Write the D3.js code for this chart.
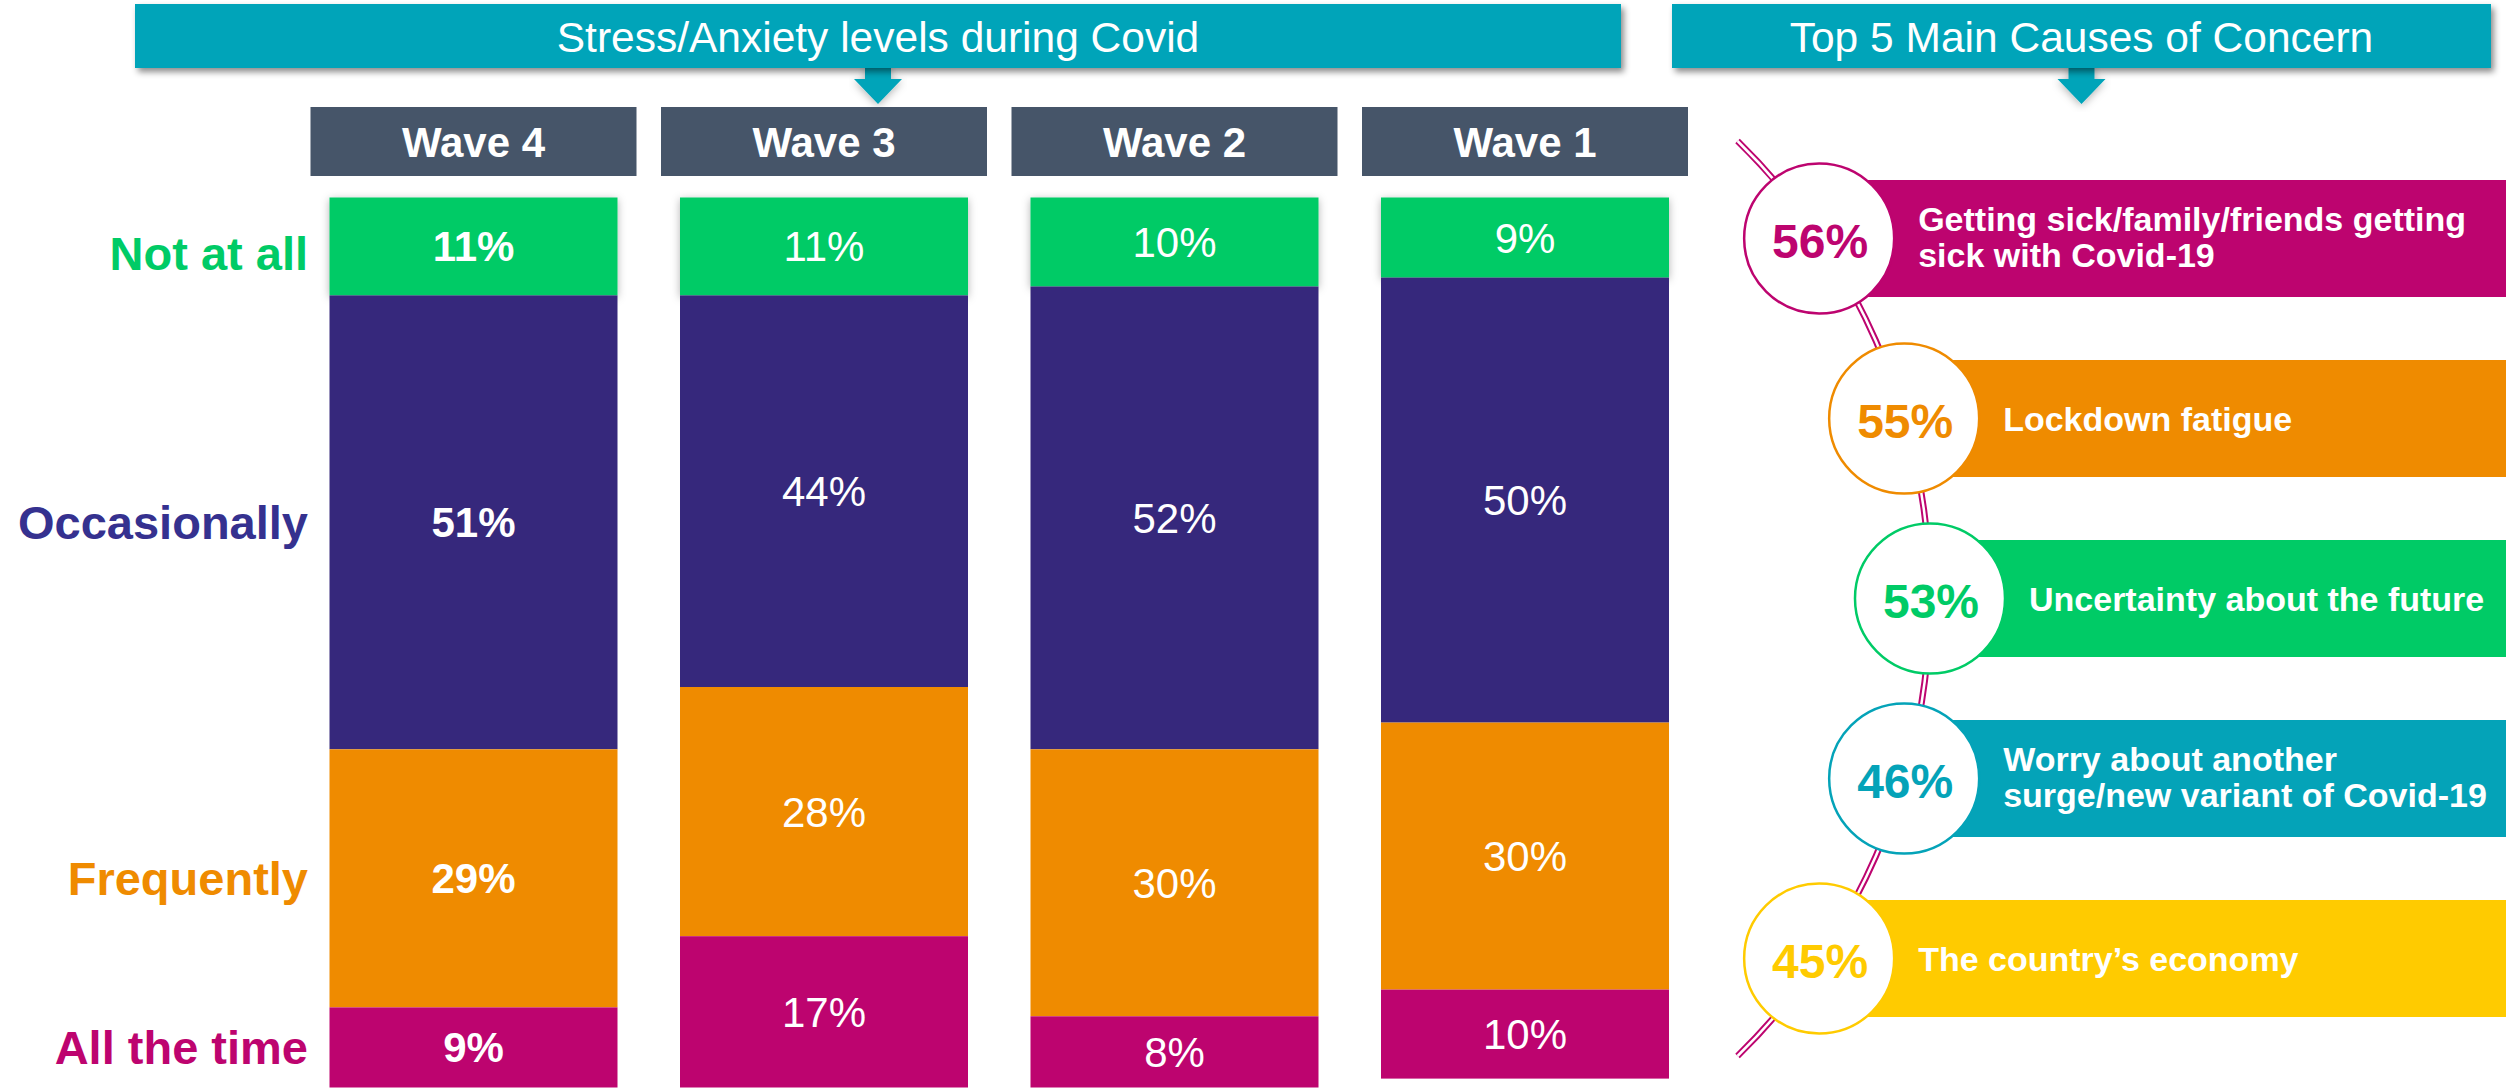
<!DOCTYPE html>
<html>
<head>
<meta charset="utf-8">
<script src="https://cdn.jsdelivr.net/npm/d3@7"></script>
<style>
  html, body { margin: 0; padding: 0; background: #ffffff; }
  svg { display: block; font-family: "Liberation Sans", Arial, sans-serif; }
</style>
</head>
<body>
<svg id="chart" width="2509" height="1089"></svg>
<script>
// ---- Stress / anxiety levels by survey wave ----
const waves = ["Wave 4", "Wave 3", "Wave 2", "Wave 1"];
const levels = ["Not at all", "Occasionally", "Frequently", "All the time"];
const notAtAll     = [11, 11, 10, 9];
const occasionally = [51, 44, 52, 50];
const frequently   = [29, 28, 30, 30];
const allTheTime   = [9, 17, 8, 10];
const levelColors  = ["#00CB66", "#36287C", "#EF8B00", "#BD046F"];

// ---- Top 5 causes of concern ----
const concerns = [
  "Getting sick/family/friends getting\nsick with Covid-19",
  "Lockdown fatigue",
  "Uncertainty about the future",
  "Worry about another\nsurge/new variant of Covid-19",
  "The country\u2019s economy"
];
const concernShares = [56, 55, 53, 46, 45];
const concernColors = ["#BD046F", "#EF8B00", "#00CB66", "#04A3B8", "#FFCB00"];

const titles = ["Stress/Anxiety levels during Covid", "Top 5 Main Causes of Concern"];

const TEAL = "#04A4B9";
const SLATE = "#465569";
const FONT = "'Liberation Sans', Arial, sans-serif";

const svg = d3.select("#chart");
const defs = svg.append("defs");

const shadow = defs.append("filter").attr("id", "shadow")
  .attr("x", "-5%").attr("y", "-20%").attr("width", "115%").attr("height", "160%");
shadow.append("feDropShadow").attr("dx", 3).attr("dy", 4).attr("stdDeviation", 3)
  .attr("flood-color", "#000").attr("flood-opacity", 0.45);

const softShadow = defs.append("filter").attr("id", "softShadow")
  .attr("x", "-10%").attr("y", "-10%").attr("width", "120%").attr("height", "130%");
softShadow.append("feDropShadow").attr("dx", 0).attr("dy", 2).attr("stdDeviation", 4)
  .attr("flood-color", "#000").attr("flood-opacity", 0.3);

// ---------- title banners with pointer arrows ----------
const banners = [
  { title: titles[0], x0: 135, x1: 1621 },
  { title: titles[1], x0: 1672, x1: 2491 }
];
const bannerG = svg.append("g");
banners.forEach(b => {
  const cx = (b.x0 + b.x1) / 2;
  bannerG.append("path")
    .attr("d", `M${cx - 13},66 L${cx + 13},66 L${cx + 13},79 L${cx + 24},79 L${cx},104 L${cx - 24},79 L${cx - 13},79 Z`)
    .attr("fill", TEAL)
    .attr("filter", "url(#softShadow)");
  bannerG.append("rect")
    .attr("x", b.x0).attr("y", 4)
    .attr("width", b.x1 - b.x0).attr("height", 64)
    .attr("fill", TEAL)
    .attr("filter", "url(#shadow)");
  bannerG.append("text")
    .attr("x", cx).attr("y", 52)
    .attr("text-anchor", "middle")
    .attr("fill", "#ffffff")
    .attr("font-family", FONT)
    .attr("font-size", 42.5)
    .text(b.title);
});

// ---------- stacked bars ----------
const x = d3.scaleBand().domain(waves).range([298.25, 1700.25]).paddingInner(0).paddingOuter(0);
const y = d3.scaleLinear().domain([0, 100]).range([197.5, 1087.5]);
const color = d3.scaleOrdinal().domain(levels).range(levelColors);

const rows = waves.map((w, i) => ({
  wave: w,
  "Not at all": notAtAll[i],
  "Occasionally": occasionally[i],
  "Frequently": frequently[i],
  "All the time": allTheTime[i]
}));
const series = d3.stack().keys(levels)(rows);

const barW = 288, headW = 326;
const cxOf = w => x(w) + x.bandwidth() / 2;

// wave headers
const heads = svg.append("g").selectAll("g").data(waves).join("g");
heads.append("rect")
  .attr("x", d => cxOf(d) - headW / 2).attr("y", 107)
  .attr("width", headW).attr("height", 69)
  .attr("fill", SLATE);
heads.append("text")
  .attr("x", d => cxOf(d)).attr("y", 157)
  .attr("text-anchor", "middle")
  .attr("fill", "#ffffff")
  .attr("font-family", FONT)
  .attr("font-weight", "bold")
  .attr("font-size", 42)
  .text(d => d);

const layers = svg.append("g").selectAll("g").data(series).join("g")
  .attr("fill", d => color(d.key));

layers.selectAll("rect").data(d => d.map(v => ({ key: d.key, v })))
  .join("rect")
  .attr("x", d => cxOf(d.v.data.wave) - barW / 2)
  .attr("y", d => y(d.v[0]))
  .attr("width", barW)
  .attr("height", d => y(d.v[1]) - y(d.v[0]))
  .attr("filter", d => d.key === levels[0] ? "url(#softShadow)" : null);

layers.selectAll("text").data(d => d.map(v => ({ key: d.key, v })))
  .join("text")
  .attr("x", d => cxOf(d.v.data.wave))
  .attr("y", d => (y(d.v[0]) + y(d.v[1])) / 2 + 15)
  .attr("text-anchor", "middle")
  .attr("fill", "#ffffff")
  .attr("font-family", FONT)
  .attr("font-size", 42)
  .attr("font-weight", d => d.v.data.wave === waves[0] ? "bold" : "normal")
  .text(d => (d.v[1] - d.v[0]) + "%");

// level labels, aligned with the latest wave's segments
const latest = series.map(s => s[0]);
svg.append("g").selectAll("text").data(latest).join("text")
  .attr("x", 308)
  .attr("y", (d, i) => (y(d[0]) + y(d[1])) / 2 + (i === 0 ? 24 : 17))
  .attr("text-anchor", "end")
  .attr("fill", (d, i) => i === 1 ? "#35318F" : levelColors[i])
  .attr("font-family", FONT)
  .attr("font-weight", "bold")
  .attr("font-size", 47)
  .text((d, i) => levels[i]);

// ---------- causes of concern: circles on an arc ----------
const arcCx = 1290, arcCy = 598.5, arcR = 640;
const cy = d3.scalePoint().domain(concerns).range([238.5, 958.5]);
const arcX = yy => arcCx + Math.sqrt(arcR * arcR - (yy - arcCy) * (yy - arcCy));

const lineTop = 141, lineBottom = 1056;
const aTop = Math.atan2(lineTop - arcCy, arcX(lineTop) - arcCx);
const aBot = Math.atan2(lineBottom - arcCy, arcX(lineBottom) - arcCx);
const arcPath = d3.path();
arcPath.arc(arcCx, arcCy, arcR, aTop, aBot, false);

const conG = svg.append("g");
conG.append("path").attr("d", arcPath.toString())
  .attr("fill", "none").attr("stroke", "#BD046F").attr("stroke-width", 6.5);
conG.append("path").attr("d", arcPath.toString())
  .attr("fill", "none").attr("stroke", "#ffffff").attr("stroke-width", 2.5);

const items = concerns.map((c, i) => ({
  label: c, share: concernShares[i], color: concernColors[i],
  cy: cy(c), cx: arcX(cy(c))
}));
const circR = 75, pillH = 117, pillRight = 2506;

const itemG = conG.selectAll("g.item").data(items).join("g").attr("class", "item");
itemG.append("rect")
  .attr("x", d => d.cx).attr("y", d => d.cy - pillH / 2)
  .attr("width", d => pillRight - d.cx).attr("height", pillH)
  .attr("fill", d => d.color);
itemG.append("circle")
  .attr("cx", d => d.cx).attr("cy", d => d.cy).attr("r", circR)
  .attr("fill", "#ffffff")
  .attr("stroke", d => d.color).attr("stroke-width", 2.5);
itemG.append("text")
  .attr("x", d => d.cx + 1).attr("y", d => d.cy + 19)
  .attr("text-anchor", "middle")
  .attr("fill", d => d.color)
  .attr("font-family", FONT)
  .attr("font-weight", "bold")
  .attr("font-size", 48)
  .text(d => d.share + "%");
itemG.append("text")
  .attr("x", d => d.cx + circR + 24)
  .attr("fill", "#ffffff")
  .attr("font-family", FONT)
  .attr("font-weight", "bold")
  .attr("font-size", 34)
  .each(function (d) {
    const lines = d.label.split("\n");
    const base = lines.length === 1 ? d.cy + 12 : d.cy - 8;
    d3.select(this).selectAll("tspan").data(lines).join("tspan")
      .attr("x", d.cx + circR + 24)
      .attr("y", (l, k) => base + k * 36)
      .text(l => l);
  });
</script>
</body>
</html>
